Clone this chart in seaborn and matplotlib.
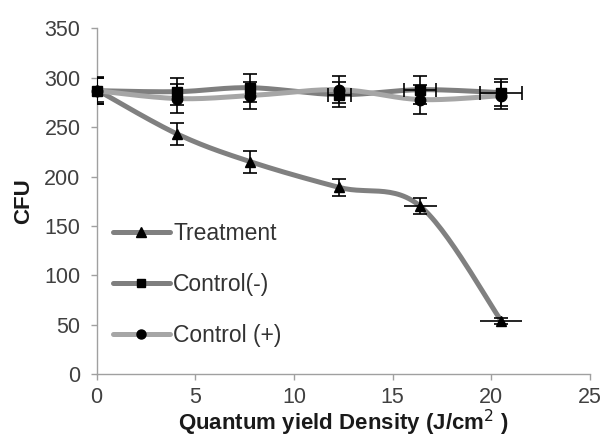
import numpy as np
import pandas as pd
import matplotlib
matplotlib.use("Agg")
import matplotlib.pyplot as plt
import seaborn as sns
from matplotlib.lines import Line2D

# ---- data ----
dose = [0, 4.1, 7.8, 12.3, 16.4, 20.5]
treatment = [288, 243, 215, 189, 170, 54]
treatment_yerr = [12, 11, 11, 9, 8, 3]
treatment_xerr = [0, 0, 0, 0, 0.83, 1.05]
control_neg = [287, 286, 290, 283, 288, 285]
control_neg_yerr = [14, 14, 14, 13, 14, 14]
control_neg_xerr = [0, 0, 0, 0.57, 0.82, 1.07]
control_pos = [287, 279, 282, 288, 278, 282]
control_pos_yerr = [13, 15, 14, 13.5, 14.5, 14]
labels = ["Treatment", "Control(-)", "Control (+)"]

sns.set_style("white")
plt.rcParams['font.family'] = ['Liberation Sans', 'DejaVu Sans']


def smooth(xs, ys, n=30):
    """Excel-like smoothed line (Catmull-Rom Bezier) through the data points."""
    P = np.column_stack([xs, ys]).astype(float)
    out = [P[0]]
    for i in range(len(P) - 1):
        p0 = P[i - 1] if i > 0 else P[i]
        p1, p2 = P[i], P[i + 1]
        p3 = P[i + 2] if i + 2 < len(P) else P[i + 1]
        c1 = p1 + (p2 - p0) / 6.0
        c2 = p2 - (p3 - p1) / 6.0
        t = np.linspace(0, 1, n)[1:, None]
        seg = ((1 - t) ** 3) * p1 + 3 * ((1 - t) ** 2) * t * c1 + 3 * (1 - t) * t ** 2 * c2 + t ** 3 * p2
        out.extend(seg)
    out = np.array(out)
    return out[:, 0], out[:, 1]


fig = plt.figure(figsize=(6.07, 4.38), dpi=100)
ax = fig.add_axes([0.159, 0.146, 0.813, 0.789])

series = [
    (treatment, treatment_yerr, treatment_xerr, "#808080", "^", 7.5, 0),
    (control_neg, control_neg_yerr, control_neg_xerr, "#7f7f7f", "s", 6.5, 5),
    (control_pos, control_pos_yerr, None, "#a6a6a6", "o", 7.5, 5),
]

handles = []
for (vals, yerr, xerr, col, mk, ms, xcap), lab in zip(series, labels):
    sx, sy = smooth(dose, vals)
    df = pd.DataFrame({"x": sx, "y": sy})
    sns.lineplot(data=df, x="x", y="y", ax=ax, color=col, lw=3.6,
                 sort=False, estimator=None, zorder=2)
    ax.errorbar(dose, vals, yerr=yerr, fmt="none", ecolor="black",
                elinewidth=1.2, capsize=5, capthick=1.2, zorder=3)
    if xerr is not None:
        ax.errorbar(dose, vals, xerr=xerr, fmt="none", ecolor="black",
                    elinewidth=1.2, capsize=xcap, capthick=1.2, zorder=3)
    ax.plot(dose, vals, ls="none", marker=mk, ms=ms, color="black",
            zorder=4, clip_on=False)
    handles.append(Line2D([0], [0], color=col, lw=3.6, marker=mk,
                          markersize=ms - 1, markerfacecolor="black",
                          markeredgecolor="black"))

ax.set_xlim(0, 25)
ax.set_ylim(0, 350)
ax.set_xticks(range(0, 26, 5))
ax.set_yticks(range(0, 351, 50))
for s in ["top", "right"]:
    ax.spines[s].set_visible(False)
for s in ["left", "bottom"]:
    ax.spines[s].set_color("#a0a0a0")
    ax.spines[s].set_linewidth(1.0)
ax.tick_params(axis="both", direction="out", length=4.5, width=1.0,
               color="#a0a0a0", labelsize=15.5, labelcolor="#404040",
               bottom=True, left=True)
ax.tick_params(axis="y", pad=7)
ax.tick_params(axis="x", pad=5)

ax.set_xlabel("Quantum yield Density (J/cm$^2$ )", fontsize=16,
              fontweight="bold", color="#1a1a1a", labelpad=0)
ax.set_ylabel("CFU", fontsize=16, fontweight="bold", color="#1a1a1a",
              labelpad=7)

leg = ax.legend(handles, labels, loc="upper left",
                bbox_to_anchor=(0.0, 0.485), frameon=False, fontsize=16.5,
                handlelength=2.5, handletextpad=0.15, labelspacing=1.22,
                borderaxespad=0.3)
for t in leg.get_texts():
    t.set_color("#333333")

fig.savefig("out.png", dpi=100)
